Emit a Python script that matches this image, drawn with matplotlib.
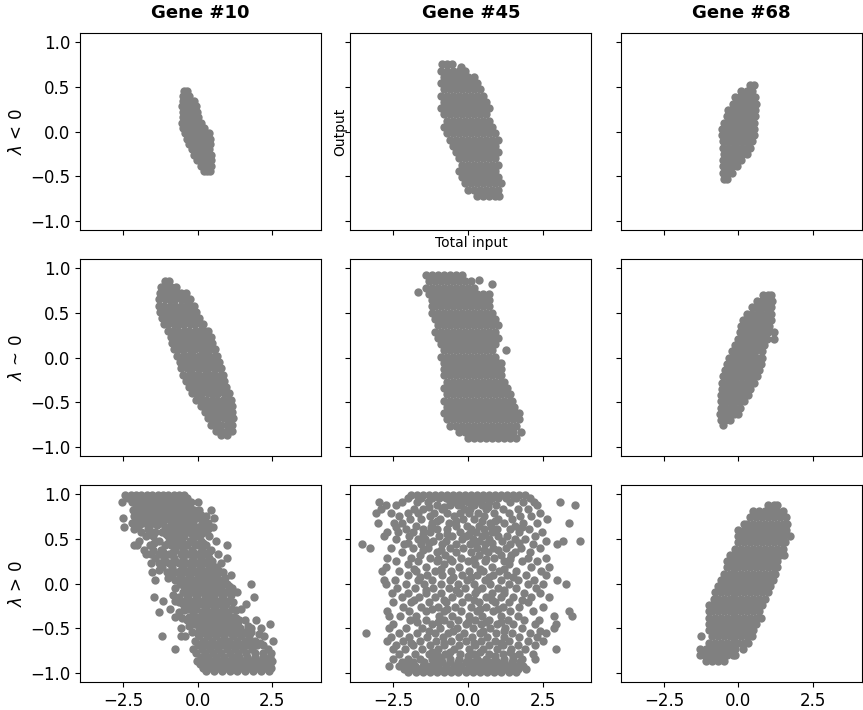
import matplotlib.pyplot as plt

# Column / row labels
genes = ["Gene #10", "Gene #45", "Gene #68"]
regimes = ["$\\lambda$ < 0", "$\\lambda$ ~ 0", "$\\lambda$ > 0"]
xticks = [-2.5, 0.0, 2.5]
yticks = [-1.0, -0.5, 0.0, 0.5, 1.0]

# Points, grouped by output level: (output, [total inputs])
g10_neg = [
    (0.45, [-0.45, -0.36]),
    (0.40, [-0.50, -0.39, -0.28]),
    (0.34, [-0.50, -0.38, -0.26, -0.13]),
    (0.28, [-0.52, -0.40, -0.28, -0.16, -0.06]),
    (0.22, [-0.50, -0.38, -0.26, -0.14, -0.02]),
    (0.16, [-0.48, -0.36, -0.24, -0.12, 0.02]),
    (0.10, [-0.52, -0.40, -0.28, -0.16, -0.04, 0.10]),
    (0.04, [-0.50, -0.38, -0.26, -0.14, -0.02, 0.10, 0.21]),
    (-0.02, [-0.42, -0.30, -0.18, -0.06, 0.06, 0.18, 0.30, 0.40]),
    (-0.08, [-0.36, -0.24, -0.12, 0.00, 0.12, 0.24, 0.36, 0.42]),
    (-0.14, [-0.28, -0.16, -0.04, 0.08, 0.20, 0.32, 0.43]),
    (-0.20, [-0.20, -0.08, 0.04, 0.16, 0.28, 0.40]),
    (-0.26, [-0.12, 0.00, 0.12, 0.24, 0.36, 0.46]),
    (-0.32, [-0.02, 0.10, 0.22, 0.34, 0.44]),
    (-0.38, [0.10, 0.22, 0.34, 0.44]),
    (-0.44, [0.22, 0.33, 0.43]),
]

g45_neg = [
    (0.75, [-0.86, -0.70, -0.54]),
    (0.72, [-0.24]),
    (0.68, [-0.90, -0.70, -0.50, -0.30, -0.10]),
    (0.61, [-0.80, -0.60, -0.40, -0.20, 0.00, 0.20]),
    (0.54, [-0.90, -0.70, -0.50, -0.30, -0.10, 0.10, 0.30]),
    (0.47, [-0.80, -0.60, -0.40, -0.20, 0.00, 0.20, 0.40]),
    (0.40, [-0.90, -0.70, -0.50, -0.30, -0.10, 0.10, 0.30, 0.50]),
    (0.33, [-0.80, -0.60, -0.40, -0.20, 0.00, 0.20, 0.40, 0.60]),
    (0.26, [-0.90, -0.70, -0.50, -0.30, -0.10, 0.10, 0.30, 0.50, 0.70]),
    (0.19, [-0.80, -0.60, -0.40, -0.20, 0.00, 0.20, 0.40, 0.60]),
    (0.12, [-0.70, -0.50, -0.30, -0.10, 0.10, 0.30, 0.50, 0.70]),
    (0.05, [-0.80, -0.60, -0.40, -0.20, 0.00, 0.20, 0.40, 0.60, 0.80]),
    (-0.02, [-0.70, -0.50, -0.30, -0.10, 0.10, 0.30, 0.50, 0.70, 0.90]),
    (-0.09, [-0.60, -0.40, -0.20, 0.00, 0.20, 0.40, 0.60, 0.80, 1.00]),
    (-0.16, [-0.50, -0.30, -0.10, 0.10, 0.30, 0.50, 0.70, 0.90]),
    (-0.23, [-0.40, -0.20, 0.00, 0.20, 0.40, 0.60, 0.80, 1.00]),
    (-0.30, [-0.30, -0.10, 0.10, 0.30, 0.50, 0.70, 0.90]),
    (-0.37, [-0.20, 0.00, 0.20, 0.40, 0.60, 0.80, 1.00]),
    (-0.44, [-0.30, -0.10, 0.10, 0.30, 0.50, 0.70, 0.90]),
    (-0.51, [-0.20, 0.00, 0.20, 0.40, 0.60, 0.80, 1.00]),
    (-0.58, [-0.10, 0.10, 0.30, 0.50, 0.70, 0.90, 1.10]),
    (-0.65, [0.00, 0.20, 0.40, 0.60, 0.80, 1.00]),
    (-0.72, [0.30, 0.50, 0.70, 0.90, 1.05]),
]

g68_neg = [
    (0.52, [0.40, 0.52]),
    (0.45, [0.10, 0.28, 0.46]),
    (0.38, [-0.10, 0.06, 0.22, 0.38, 0.56]),
    (0.31, [-0.20, -0.04, 0.12, 0.28, 0.44, 0.58]),
    (0.24, [-0.34, -0.18, -0.02, 0.14, 0.30, 0.46, 0.56]),
    (0.17, [-0.40, -0.24, -0.08, 0.08, 0.24, 0.40, 0.54]),
    (0.10, [-0.50, -0.34, -0.18, -0.02, 0.14, 0.30, 0.46, 0.53]),
    (0.03, [-0.56, -0.40, -0.24, -0.08, 0.08, 0.24, 0.40, 0.52]),
    (-0.04, [-0.54, -0.38, -0.22, -0.06, 0.10, 0.26, 0.42, 0.52]),
    (-0.11, [-0.52, -0.36, -0.20, -0.04, 0.12, 0.28, 0.46]),
    (-0.18, [-0.52, -0.36, -0.20, -0.04, 0.12, 0.28, 0.40]),
    (-0.25, [-0.50, -0.34, -0.18, -0.02, 0.14, 0.28]),
    (-0.32, [-0.52, -0.36, -0.20, -0.04, 0.10]),
    (-0.39, [-0.52, -0.36, -0.20, -0.04]),
    (-0.46, [-0.52, -0.38, -0.22]),
    (-0.53, [-0.50, -0.38]),
]

g10_zero = [
    (0.85, [-1.10, -0.95]),
    (0.79, [-1.22, -1.06, -0.88, -0.72]),
    (0.72, [-1.26, -1.08, -0.90, -0.72, -0.55, -0.38]),
    (0.65, [-1.28, -1.10, -0.92, -0.74, -0.56, -0.38, -0.26]),
    (0.58, [-1.29, -1.11, -0.93, -0.75, -0.57, -0.39, -0.21, -0.12]),
    (0.51, [-1.26, -1.08, -0.90, -0.72, -0.54, -0.36, -0.18, -0.05]),
    (0.44, [-1.20, -1.02, -0.84, -0.66, -0.48, -0.30, -0.12, 0.06]),
    (0.37, [-1.14, -0.98, -0.80, -0.62, -0.44, -0.26, -0.08, 0.10, 0.20]),
    (0.30, [-1.00, -0.82, -0.64, -0.46, -0.28, -0.10, 0.08, 0.26, 0.34]),
    (0.23, [-0.90, -0.72, -0.54, -0.36, -0.18, 0.00, 0.18, 0.36, 0.44]),
    (0.16, [-0.86, -0.68, -0.50, -0.32, -0.14, 0.04, 0.22, 0.40, 0.50]),
    (0.09, [-0.80, -0.62, -0.44, -0.26, -0.08, 0.10, 0.28, 0.46, 0.57]),
    (0.02, [-0.68, -0.50, -0.32, -0.14, 0.04, 0.22, 0.40, 0.58, 0.64]),
    (-0.05, [-0.60, -0.42, -0.24, -0.06, 0.12, 0.30, 0.48, 0.66, 0.72]),
    (-0.12, [-0.54, -0.36, -0.18, 0.00, 0.18, 0.36, 0.54, 0.72, 0.80]),
    (-0.19, [-0.48, -0.30, -0.12, 0.06, 0.24, 0.42, 0.60, 0.78, 0.86]),
    (-0.26, [-0.38, -0.20, -0.02, 0.16, 0.34, 0.52, 0.70, 0.90]),
    (-0.33, [-0.28, -0.10, 0.08, 0.26, 0.44, 0.62, 0.80, 0.96]),
    (-0.40, [-0.20, -0.02, 0.16, 0.34, 0.52, 0.70, 0.88, 1.06]),
    (-0.47, [-0.06, 0.12, 0.30, 0.48, 0.66, 0.84, 1.02, 1.12]),
    (-0.54, [0.10, 0.28, 0.46, 0.64, 0.82, 1.00, 1.14]),
    (-0.61, [0.26, 0.44, 0.62, 0.80, 0.98, 1.16]),
    (-0.68, [0.34, 0.52, 0.70, 0.88, 1.06, 1.18]),
    (-0.75, [0.44, 0.62, 0.80, 0.98, 1.16]),
    (-0.82, [0.62, 0.80, 0.98, 1.14]),
    (-0.86, [0.80, 1.00]),
]

g45_zero = [
    (0.92, [-1.40, -1.20, -1.00, -0.80, -0.60, -0.40, -0.20]),
    (0.87, [0.36]),
    (0.82, [0.79]),
    (0.85, [-1.30, -1.10, -0.90, -0.70, -0.50, -0.30, -0.10, 0.10]),
    (0.73, [-1.66]),
    (0.78, [-1.40, -1.20, -1.00, -0.80, -0.60, -0.40, -0.20, 0.00, 0.20]),
    (0.71, [-1.30, -1.10, -0.90, -0.70, -0.50, -0.30, -0.10, 0.10, 0.30, 0.50, 0.70]),
    (0.64, [-1.20, -1.00, -0.80, -0.60, -0.40, -0.20, 0.00, 0.20, 0.40, 0.60, 0.72]),
    (0.57, [-1.22, -1.10, -0.90, -0.70, -0.50, -0.30, -0.10, 0.10, 0.30, 0.50, 0.70]),
    (0.50, [-1.20, -1.00, -0.80, -0.60, -0.40, -0.20, 0.00, 0.20, 0.40, 0.60, 0.80]),
    (0.43, [-1.10, -0.90, -0.70, -0.50, -0.30, -0.10, 0.10, 0.30, 0.50, 0.70, 0.90]),
    (0.36, [-1.00, -0.80, -0.60, -0.40, -0.20, 0.00, 0.20, 0.40, 0.60, 0.80, 1.00]),
    (0.29, [-1.10, -0.90, -0.70, -0.50, -0.30, -0.10, 0.10, 0.30, 0.50, 0.70, 0.90]),
    (0.22, [-1.00, -0.80, -0.60, -0.40, -0.20, 0.00, 0.20, 0.40, 0.60, 0.80, 1.00]),
    (0.15, [-0.90, -0.70, -0.50, -0.30, -0.10, 0.10, 0.30, 0.50, 0.70, 0.90]),
    (0.08, [-0.80, -0.60, -0.40, -0.20, 0.00, 0.20, 0.40, 0.60, 0.80, 1.29]),
    (0.01, [-0.90, -0.70, -0.50, -0.30, -0.10, 0.10, 0.30, 0.50, 0.70, 0.90]),
    (-0.06, [-0.80, -0.60, -0.40, -0.20, 0.00, 0.20, 0.40, 0.60, 0.80, 1.00, 1.12]),
    (-0.13, [-0.79, -0.70, -0.50, -0.30, -0.10, 0.10, 0.30, 0.50, 0.70, 0.90, 1.10]),
    (-0.20, [-0.80, -0.60, -0.40, -0.20, 0.00, 0.20, 0.40, 0.60, 0.80, 1.00, 1.12]),
    (-0.27, [-0.70, -0.50, -0.30, -0.10, 0.10, 0.30, 0.50, 0.70, 0.90, 1.10, 1.20]),
    (-0.34, [-0.80, -0.60, -0.40, -0.20, 0.00, 0.20, 0.40, 0.60, 0.80, 1.00, 1.20, 1.30]),
    (-0.41, [-0.70, -0.50, -0.30, -0.10, 0.10, 0.30, 0.50, 0.70, 0.90, 1.10, 1.30, 1.40]),
    (-0.48, [-0.80, -0.60, -0.40, -0.20, 0.00, 0.20, 0.40, 0.60, 0.80, 1.00, 1.20, 1.40, 1.48]),
    (-0.55, [-0.70, -0.50, -0.30, -0.10, 0.10, 0.30, 0.50, 0.70, 0.90, 1.10, 1.30, 1.50, 1.55]),
    (-0.62, [-0.80, -0.60, -0.40, -0.20, 0.00, 0.20, 0.40, 0.60, 0.80, 1.00, 1.20, 1.40, 1.60, 1.70]),
    (-0.69, [-0.70, -0.50, -0.30, -0.10, 0.10, 0.30, 0.50, 0.70, 0.90, 1.10, 1.30, 1.50, 1.70]),
    (-0.76, [-0.60, -0.40, -0.20, 0.00, 0.20, 0.40, 0.60, 0.80, 1.00, 1.20, 1.40, 1.60]),
    (-0.83, [-0.30, -0.10, 0.10, 0.30, 0.50, 0.70, 0.90, 1.10, 1.30, 1.50, 1.78]),
    (-0.90, [0.00, 0.20, 0.40, 0.60, 0.80, 1.00, 1.20, 1.40, 1.60]),
]

g68_zero = [
    (0.70, [0.82, 0.98, 1.08]),
    (0.63, [0.62, 0.78, 0.94, 1.12]),
    (0.56, [0.45, 0.61, 0.77, 0.93, 1.10]),
    (0.49, [0.30, 0.46, 0.62, 0.78, 0.94, 1.08]),
    (0.42, [0.16, 0.32, 0.48, 0.64, 0.80, 0.96, 1.08]),
    (0.35, [0.10, 0.26, 0.42, 0.58, 0.74, 0.90, 1.04]),
    (0.28, [0.04, 0.20, 0.36, 0.52, 0.68, 0.84, 1.00, 1.18]),
    (0.21, [-0.02, 0.14, 0.30, 0.46, 0.62, 0.78, 0.94, 1.18]),
    (0.14, [-0.12, 0.04, 0.20, 0.36, 0.52, 0.68, 0.84]),
    (0.07, [-0.23, -0.07, 0.09, 0.25, 0.41, 0.57, 0.78]),
    (0.00, [-0.32, -0.16, 0.00, 0.16, 0.32, 0.48, 0.64, 0.78]),
    (-0.07, [-0.40, -0.24, -0.08, 0.08, 0.24, 0.40, 0.56, 0.74]),
    (-0.14, [-0.46, -0.30, -0.14, 0.02, 0.18, 0.34, 0.50, 0.70]),
    (-0.21, [-0.52, -0.36, -0.20, -0.04, 0.12, 0.28, 0.44, 0.62]),
    (-0.28, [-0.56, -0.40, -0.24, -0.08, 0.08, 0.24, 0.40, 0.52]),
    (-0.35, [-0.56, -0.40, -0.24, -0.08, 0.08, 0.24, 0.38]),
    (-0.42, [-0.58, -0.42, -0.26, -0.10, 0.06, 0.22, 0.32]),
    (-0.49, [-0.58, -0.42, -0.26, -0.10, 0.06, 0.20]),
    (-0.56, [-0.60, -0.44, -0.28, -0.12, 0.06]),
    (-0.63, [-0.62, -0.46, -0.30, -0.14, -0.02]),
    (-0.70, [-0.60, -0.44, -0.28]),
    (-0.75, [-0.52]),
]

g10_pos = [
    (0.99, [-2.42, -2.24, -2.06, -1.88, -1.70, -1.52, -1.34, -1.16, -0.98, -0.80, -0.62, -0.44]),
    (0.95, [-2.32, -2.14, -1.96, -1.78, -1.60, -1.42, -1.24, -1.06, -0.88, -0.70, -0.52, -0.36]),
    (0.91, [-2.54, -2.20, -2.02, -1.84, -1.66, -1.48, -1.30, -1.12, -0.94, -0.76, -0.58, -0.40, -0.22, 0.03]),
    (0.86, [-2.06, -1.88, -1.70, -1.52, -1.34, -1.16, -0.98, -0.80, -0.62, -0.44, -0.26]),
    (0.82, [-2.16, -1.96, -1.62, -1.44, -1.26, -1.08, -0.90, -0.66, -0.48, -0.12, 0.05, 0.45]),
    (0.795, [-1.90, -1.66, -1.40, -1.20, -1.02, -0.82, -0.60, -0.30, -0.02]),
    (0.77, [-2.02, -1.80, -1.56, -1.30, -1.12, -0.94, -0.72, -0.40, -0.22, 0.10]),
    (0.75, [-2.12, -1.62, -1.22, -1.06, -0.86, -0.66, -0.46, -0.16, 0.30]),
    (0.73, [-2.51, -1.90, -1.72, -1.40, -0.98, -0.80, -0.56, -0.30, -0.05, 0.20, 0.56]),
    (0.705, [-1.98, -1.62, -1.12, -0.78, -0.52, -0.26]),
    (0.68, [-2.20, -1.84, -1.50, -1.26, -0.90, -0.66, -0.42, -0.14, 0.15, 0.34]),
    (0.655, [-1.96, -1.36, -0.62, -0.30, 0.26]),
    (0.63, [-2.45, -2.02, -1.64, -1.08, -0.76, -0.50, -0.20, 0.04, 0.53]),
    (0.605, [-2.14, -1.66, -0.98, -0.42, -0.14, 0.36]),
    (0.58, [-1.90, -1.42, -1.18, -0.92, -0.62, -0.30, -0.06, 0.22]),
    (0.555, [-1.60, -1.06, -0.80, -0.50, -0.20, 0.12]),
    (0.53, [-1.72, -1.50, -0.98, -0.70, -0.44, -0.16, 0.02, 0.40]),
    (0.48, [-1.96, -1.30, -0.84, -0.56, -0.24, 0.10, 0.62]),
    (0.455, [-1.46, -0.98, -0.72, -0.48, -0.12, 0.18]),
    (0.43, [-2.12, -2.02, -1.60, -1.10, -0.90, -0.62, -0.36, 0.00, 0.30, 1.00]),
    (0.38, [-1.80, -1.48, -1.24, -0.74, -0.48, -0.20, 0.14, 0.46]),
    (0.355, [-1.16, -0.82, -0.44, -0.14, 0.10, 0.38]),
    (0.33, [-1.73, -1.55, -1.30, -0.96, -0.57, -0.32, -0.04, 0.24, 0.70]),
    (0.28, [-1.42, -1.12, -0.80, -0.48, -0.16, 0.12, 0.40, 1.00]),
    (0.255, [-1.10, -0.76, -0.50, -0.18, 0.14, 0.50]),
    (0.23, [-1.57, -1.30, -0.94, -0.63, -0.36, -0.02, 0.28, 0.78]),
    (0.18, [-1.20, -0.84, -0.50, -0.20, 0.10, 0.42, 0.62]),
    (0.155, [-1.30, -0.86, -0.56, -0.26, 0.04, 0.36, 0.70]),
    (0.13, [-1.51, -1.02, -0.70, -0.40, -0.10, 0.20, 0.52, 0.86]),
    (0.09, [-0.86, -0.56, -0.26, 0.04, 0.34, 0.64, 1.12]),
    (0.065, [-1.00, -0.60, -0.30, 0.00, 0.30, 0.60, 0.92]),
    (0.04, [-1.42, -0.74, -0.44, -0.16, 0.14, 0.46, 0.76]),
    (-0.01, [-0.60, -0.30, 0.00, 0.28, 0.58, 0.88, 1.00, 1.80]),
    (-0.03, [-0.46, -0.16, 0.14, 0.42, 0.72, 1.04]),
    (-0.05, [-0.74, -0.40, -0.10, 0.20, 0.50, 0.80, 1.16]),
    (-0.10, [-0.50, -0.20, 0.08, 0.38, 0.66, 0.96, 1.34]),
    (-0.125, [-0.82, -0.36, -0.06, 0.24, 0.52, 0.82, 1.12]),
    (-0.15, [-1.46, -0.62, -0.32, -0.02, 0.28, 0.56, 0.86, 1.91]),
    (-0.19, [-1.15, -0.74, -0.42, -0.12, 0.18, 0.46, 0.76, 1.06]),
    (-0.21, [-0.62, -0.36, -0.06, 0.24, 0.54, 0.82, 1.20]),
    (-0.23, [-0.50, -0.22, 0.08, 0.38, 0.68, 0.96, 1.63]),
    (-0.28, [-0.91, -0.34, -0.04, 0.26, 0.56, 0.84, 1.14, 1.47]),
    (-0.30, [-0.46, -0.12, 0.28, 0.58, 0.88, 1.28]),
    (-0.32, [-1.29, -0.62, -0.16, 0.14, 0.44, 0.74, 1.02]),
    (-0.37, [-0.74, -0.30, 0.02, 0.32, 0.62, 0.92, 1.22]),
    (-0.39, [-0.52, -0.14, 0.16, 0.46, 0.76, 1.06, 1.30]),
    (-0.41, [-0.35, -0.06, 0.20, 0.50, 0.80, 1.10, 1.40, 1.58, 1.96]),
    (-0.45, [-0.12, 0.12, 0.40, 0.70, 0.98, 1.28, 2.44]),
    (-0.475, [-0.30, 0.20, 0.50, 0.78, 1.06, 1.36, 1.68]),
    (-0.50, [-0.57, 0.04, 0.30, 0.58, 0.86, 1.14, 1.42, 1.80, 2.13]),
    (-0.54, [-0.20, 0.18, 0.46, 0.74, 1.02, 1.30, 1.60, 1.80]),
    (-0.565, [0.00, 0.30, 0.58, 0.86, 1.14, 1.42, 1.70, 2.06]),
    (-0.59, [-1.18, -0.57, -0.41, 0.06, 0.34, 0.62, 0.90, 1.18, 1.46, 1.74, 2.24]),
    (-0.64, [-0.10, 0.22, 0.50, 0.78, 1.06, 1.34, 1.62, 1.92, 2.52]),
    (-0.665, [0.14, 0.44, 0.72, 1.00, 1.28, 1.56, 1.84, 2.10]),
    (-0.69, [0.00, 0.30, 0.58, 0.86, 1.14, 1.42, 1.70, 1.98, 2.20]),
    (-0.73, [-0.74, -0.16, 0.14, 0.42, 0.70, 0.98, 1.26, 1.54, 1.82, 2.35]),
    (-0.78, [-0.04, 0.24, 0.52, 0.80, 1.08, 1.36, 1.64, 1.92, 2.20, 2.45]),
    (-0.82, [0.10, 0.36, 0.62, 0.88, 1.14, 1.40, 1.66, 1.92, 2.18, 2.42]),
    (-0.86, [-0.02, 0.22, 0.48, 0.74, 1.00, 1.26, 1.52, 1.78, 2.04, 2.30, 2.50]),
    (-0.90, [0.08, 0.34, 0.60, 0.86, 1.12, 1.38, 1.64, 1.90, 2.16, 2.42]),
    (-0.94, [0.18, 0.44, 0.70, 0.96, 1.22, 1.48, 1.74, 2.00, 2.26, 2.48]),
    (-0.98, [0.30, 0.56, 0.82, 1.08, 1.34, 1.60, 1.86, 2.12, 2.38]),
]

g45_pos = [
    (0.99, [-1.90, -1.70, -1.50, -1.30, -1.10, -0.90, -0.70, -0.50, -0.30, -0.10, 0.10, 0.30, 0.50, 0.70, 0.90, 1.10, 1.30, 1.50, 1.70, 1.92]),
    (0.95, [-2.02, -1.56, -1.20, -0.96, -0.74, -0.52, -0.30, -0.08, 0.14, 0.36, 0.58, 0.80, 1.02, 1.26, 1.60, 2.08]),
    (0.91, [-3.00, -2.22, -1.72, -1.34, -0.60, -0.40, -0.20, 0.00, 0.22, 0.44, 0.70, 1.40, 1.86, 2.20, 3.07]),
    (0.875, [-2.75, -2.41, -1.05, -0.62, -0.33, 0.21, 0.47, 0.95, 2.31, 3.60]),
    (0.86, [-1.30, -0.82, 0.66]),
    (0.835, [-2.92, -1.81, -1.52, -0.86, -0.12, 0.08, 0.61, 1.19, 1.66, 2.02]),
    (0.79, [-3.10, -2.58, -2.01, -1.66, -1.14, -0.71, -0.28, 0.03, 0.34, 0.88, 1.36, 2.40]),
    (0.755, [-2.33, -1.29, -0.47, 0.52, 1.75, 2.12]),
    (0.72, [-1.95, -1.58, -0.93, -0.18, 0.21, 1.02, 1.49, 2.64]),
    (0.70, [-1.04, -0.40, 0.48, 0.90]),
    (0.68, [-3.03, -2.47, -2.21, -1.22, -0.64, 0.74, 1.21, 1.84, 2.30, 3.40]),
    (0.645, [-1.73, -0.40, -0.02, 0.38, 1.56]),
    (0.63, [-2.40, -1.24, 0.76, 1.80]),
    (0.61, [-2.09, -1.50, -1.03, -0.71, 0.09, 0.55, 0.96, 1.41, 2.06]),
    (0.575, [-2.70, -2.34, -1.84, -1.27, -0.27, 0.28, 0.82, 1.71, 2.49]),
    (0.555, [-1.52, -0.70, 0.04, 0.58]),
    (0.535, [-2.81, -1.98, -0.98, -0.55, -0.08, 0.46, 1.02, 1.30, 2.24]),
    (0.50, [-2.43, -1.66, -1.45, -0.21, 0.16, 0.69, 1.57, 1.92]),
    (0.475, [-1.17, -0.74, 0.37, 1.13, 2.61, 3.20, 3.77]),
    (0.455, [-2.00, -1.30, 0.20, 0.82, 1.70]),
    (0.44, [-3.55, -2.14, -1.56, -0.88, -0.41, 0.06, 0.57, 1.40, 2.19, 2.98]),
    (0.395, [-3.28, -2.58, -1.83, -1.33, -0.62, -0.16, 0.29, 0.84, 1.27, 1.78, 2.41]),
    (0.375, [-1.50, -0.90, 0.52, 1.02]),
    (0.355, [-2.22, -1.04, -0.39, 0.11, 0.66, 1.58, 2.09]),
    (0.32, [-1.61, -0.77, 0.38, 1.10, 1.45]),
    (0.29, [-2.72, -1.91, -1.29, -0.24, 0.88, 2.02, 2.60]),
    (0.27, [-1.00, -0.60, 0.20, 0.62, 1.40]),
    (0.25, [-2.40, -1.66, -1.05, -0.52, 0.00, 0.57, 1.22, 1.81, 2.31]),
    (0.215, [-2.00, -0.82, 0.23, 1.38]),
    (0.185, [-2.75, -1.40, -0.31, 0.79, 2.12, 2.70]),
    (0.165, [-1.80, -0.90, 0.40, 1.20]),
    (0.145, [-2.87, -2.31, -1.74, -1.09, -0.57, 0.02, 0.51, 1.03, 1.61, 2.44]),
    (0.095, [-2.01, -1.38, -0.87, -0.19, 0.31, 0.83, 1.31, 1.95, 2.60]),
    (0.07, [-1.60, -0.50, 0.10, 0.70, 1.50]),
    (0.045, [-2.81, -2.46, -1.68, -1.21, -0.61, -0.05, 0.57, 1.11, 1.69, 2.21, 3.00]),
    (0.00, [-2.75, -2.09, -1.49, -0.91, -0.35, 0.21, 0.75, 1.39, 2.01, 2.52, 3.30]),
    (-0.05, [-2.38, -1.79, -1.19, -0.65, -0.11, 0.47, 1.01, 1.61, 2.29]),
    (-0.075, [-1.40, -0.40, 0.30, 1.20]),
    (-0.105, [-2.56, -2.02, -1.41, -0.89, -0.29, 0.23, 0.79, 1.21, 1.87, 2.40]),
    (-0.155, [-2.21, -1.63, -1.09, -0.53, 0.01, 0.61, 1.09, 1.51, 2.11, 2.70]),
    (-0.18, [-1.80, -0.80, 0.20, 0.80, 1.80]),
    (-0.205, [-2.50, -1.91, -1.31, -0.73, -0.19, 0.37, 0.91, 1.39, 2.01]),
    (-0.26, [-2.19, -1.59, -0.99, -0.45, 0.11, 0.61, 1.19, 1.71, 2.50]),
    (-0.285, [-1.20, -0.70, 0.40, 1.00]),
    (-0.31, [-2.70, -1.99, -1.41, -0.79, -0.25, 0.31, 0.83, 1.41, 2.19, 3.40]),
    (-0.36, [-2.64, -2.27, -1.73, -0.98, -0.52, 0.05, 0.47, 1.12, 1.66, 2.90, 3.50]),
    (-0.405, [-1.96, -1.42, -0.81, -0.33, 0.24, 0.71, 1.33, 1.87, 2.38]),
    (-0.43, [-1.70, -1.00, 0.00, 0.60, 1.10]),
    (-0.455, [-2.52, -1.22, -0.62, -0.07, 0.42, 0.98, 1.52, 2.23, 2.96]),
    (-0.50, [-2.66, -2.08, -1.53, -0.93, -0.37, 0.18, 0.73, 1.24, 1.82, 2.90]),
    (-0.525, [-1.30, -0.50, 0.50, 1.20, 2.40]),
    (-0.55, [-3.43, -2.31, -1.71, -1.12, -0.66, -0.15, 0.39, 0.93, 1.48, 2.09, 2.62]),
    (-0.595, [-2.58, -1.98, -1.38, -0.83, -0.31, 0.14, 0.64, 1.21, 1.72, 2.31]),
    (-0.64, [-2.70, -2.18, -1.62, -1.07, -0.58, -0.08, 0.43, 0.91, 1.38, 2.02, 2.50]),
    (-0.665, [-1.90, -0.80, 0.20, 1.10]),
    (-0.69, [-2.42, -1.86, -1.27, -0.79, -0.29, 0.22, 0.69, 1.19, 1.66, 2.23]),
    (-0.735, [-2.53, -2.10, -1.54, -1.01, -0.48, 0.03, 0.49, 0.97, 1.43, 1.91, 2.96]),
    (-0.76, [-1.20, -0.60, 0.40, 1.40]),
    (-0.785, [-2.30, -1.78, -1.32, -0.78, -0.27, 0.21, 0.72, 1.18, 1.71, 2.19]),
    (-0.81, [-1.00, 0.00, 0.90, 1.50]),
    (-0.84, [-2.50, -2.00, -1.60, -1.20, -0.90, -0.60, -0.30, 0.00, 0.30, 0.60, 0.90, 1.20, 1.50, 1.80, 2.24]),
    (-0.88, [-2.20, -1.84, -1.48, -1.12, -0.86, -0.60, -0.34, -0.08, 0.18, 0.44, 0.70, 0.96, 1.22, 1.48, 1.74]),
    (-0.92, [-2.64, -2.30, -2.04, -1.78, -1.52, -1.26, -1.00, -0.74, -0.48, -0.22, 0.04, 0.30, 0.56, 0.82, 1.08, 1.34, 1.60, 1.86]),
    (-0.96, [-2.16, -1.92, -1.68, -1.44, -1.20, -0.96, -0.72, -0.48, -0.24, 0.00, 0.24, 0.48, 0.72, 0.96, 1.20, 1.44, 1.68, 1.94]),
    (-0.99, [-2.00, -1.76, -1.52, -1.28, -1.04, -0.80, -0.56, -0.32, -0.08, 0.16, 0.40, 0.64, 0.88, 1.12, 1.36, 1.60]),
]

g68_pos = [
    (0.88, [1.00, 1.20, 1.28]),
    (0.81, [0.50, 0.70, 0.90, 1.10, 1.30, 1.50]),
    (0.74, [0.40, 0.60, 0.80, 1.00, 1.20, 1.40, 1.60]),
    (0.67, [0.20, 0.30, 0.50, 0.70, 0.90, 1.10, 1.30, 1.50, 1.62]),
    (0.60, [0.00, 0.20, 0.40, 0.60, 0.80, 1.00, 1.20, 1.40, 1.60]),
    (0.53, [0.00, 0.10, 0.30, 0.50, 0.70, 0.90, 1.10, 1.30, 1.50, 1.74]),
    (0.46, [0.00, 0.20, 0.40, 0.60, 0.80, 1.00, 1.20, 1.40, 1.55]),
    (0.39, [-0.10, 0.10, 0.30, 0.50, 0.70, 0.90, 1.10, 1.30, 1.50]),
    (0.32, [-0.28, -0.14, 0.00, 0.20, 0.40, 0.60, 0.80, 1.00, 1.20, 1.40, 1.52]),
    (0.25, [-0.40, -0.25, -0.10, 0.10, 0.30, 0.50, 0.70, 0.90, 1.10, 1.30]),
    (0.18, [-0.40, -0.20, 0.00, 0.20, 0.40, 0.60, 0.80, 1.00, 1.20, 1.28]),
    (0.11, [-0.50, -0.30, -0.10, 0.10, 0.30, 0.50, 0.70, 0.90, 1.10, 1.22]),
    (0.04, [-0.60, -0.40, -0.20, 0.00, 0.20, 0.40, 0.60, 0.80, 1.00, 1.15]),
    (-0.03, [-0.70, -0.50, -0.30, -0.10, 0.10, 0.30, 0.50, 0.70, 0.90, 1.06]),
    (-0.10, [-0.80, -0.60, -0.40, -0.20, 0.00, 0.20, 0.40, 0.60, 0.80, 1.00]),
    (-0.17, [-0.82, -0.70, -0.50, -0.30, -0.10, 0.10, 0.30, 0.50, 0.70, 0.90]),
    (-0.24, [-1.00, -0.80, -0.60, -0.40, -0.20, 0.00, 0.20, 0.40, 0.60, 0.80]),
    (-0.31, [-1.00, -0.90, -0.70, -0.50, -0.30, -0.10, 0.10, 0.30, 0.50, 0.70]),
    (-0.38, [-1.00, -0.80, -0.60, -0.40, -0.20, 0.00, 0.20, 0.40, 0.60, 0.74]),
    (-0.45, [-1.00, -0.90, -0.70, -0.50, -0.30, -0.10, 0.10, 0.30, 0.50, 0.58]),
    (-0.52, [-1.00, -0.80, -0.60, -0.40, -0.20, 0.00, 0.20, 0.40, 0.50]),
    (-0.59, [-1.25, -0.90, -0.70, -0.50, -0.30, -0.10, 0.10, 0.30, 0.44]),
    (-0.66, [-1.00, -0.80, -0.60, -0.40, -0.20, 0.00, 0.20, 0.32]),
    (-0.73, [-1.30, -1.10, -0.90, -0.70, -0.50, -0.30, -0.10, 0.15]),
    (-0.80, [-1.30, -1.15, -1.00, -0.80, -0.60, -0.40, -0.20, -0.10]),
    (-0.87, [-1.10, -0.90, -0.70, -0.50]),
]

panels = [
    [g10_neg, g45_neg, g68_neg],
    [g10_zero, g45_zero, g68_zero],
    [g10_pos, g45_pos, g68_pos],
]


def unpack(rows):
    xs = [x for y, row in rows for x in row]
    ys = [y for y, row in rows for x in row]
    return xs, ys


fig, axes = plt.subplots(3, 3, figsize=(8.63, 7.1), dpi=100, sharex=True, sharey=True)
fig.subplots_adjust(left=0.0927, right=0.9988, bottom=0.0394, top=0.9535,
                    wspace=0.1223, hspace=0.1473)

for i in range(3):
    for j in range(3):
        ax = axes[i, j]
        xs, ys = unpack(panels[i][j])
        ax.scatter(xs, ys, s=36, color="grey", linewidths=0)
        ax.tick_params(labelsize=12)

axes[0, 0].set_xlim(-3.94, 4.14)
axes[0, 0].set_ylim(-1.1, 1.1)
axes[0, 0].set_xticks(xticks)
axes[0, 0].set_yticks(yticks)

for j, name in enumerate(genes):
    axes[0, j].set_title(name, fontsize=13, fontweight="bold", pad=11)
for i, lab in enumerate(regimes):
    axes[i, 0].set_ylabel(lab, fontsize=12, labelpad=3)

# axis names only on one panel
axes[0, 1].set_ylabel("Output", fontsize=10, labelpad=-1.5)
axes[0, 1].set_xlabel("Total input", fontsize=10, labelpad=0.5)

plt.savefig("out.png", dpi=100)
